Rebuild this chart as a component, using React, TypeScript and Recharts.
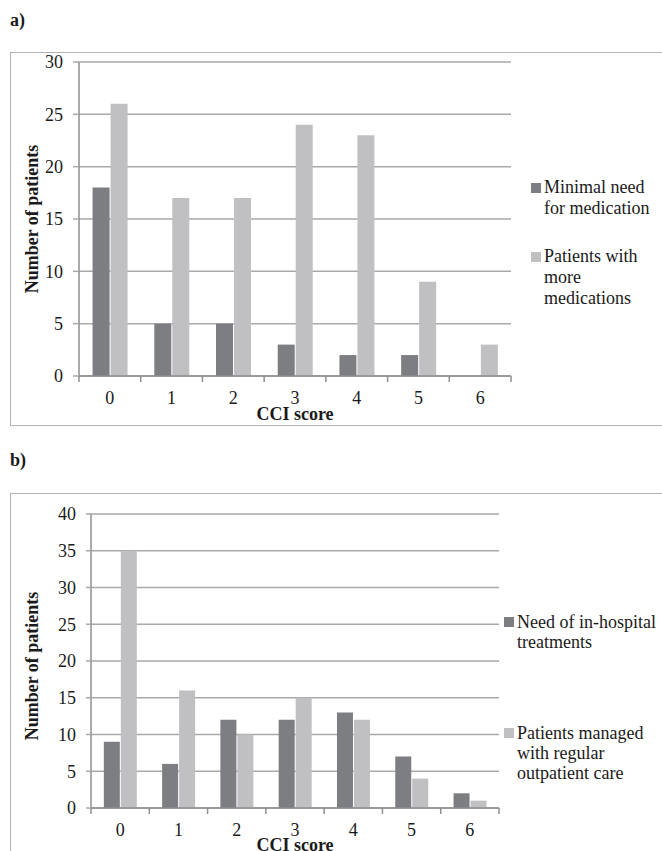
import React from 'react';
import { BarChart, Bar, XAxis, YAxis, CartesianGrid, Legend } from 'recharts';

const categories = ['0', '1', '2', '3', '4', '5', '6'];
const minimalNeed = [18, 5, 5, 3, 2, 2, 0];
const moreMedications = [26, 17, 17, 24, 23, 9, 3];
const inHospital = [9, 6, 12, 12, 13, 7, 2];
const outpatient = [35, 16, 10, 15, 12, 4, 1];
const ticksA = [0, 5, 10, 15, 20, 25, 30];
const ticksB = [0, 5, 10, 15, 20, 25, 30, 35, 40];

const seriesA = ['Minimal need for medication', 'Patients with more medications'];
const seriesB = ['Need of in-hospital treatments', 'Patients managed with regular outpatient care'];

const dataA = categories.map((c, i) => ({ cci: c, s1: minimalNeed[i], s2: moreMedications[i] }));
const dataB = categories.map((c, i) => ({ cci: c, s1: inHospital[i], s2: outpatient[i] }));

const FONT = "'Liberation Serif', 'Times New Roman', serif";
const DARK = '#7d7e82';
const LIGHT = '#c0c0c2';
const GRID = '#a9a9a9';
const AXIS = '#8e8e8e';
const TEXT = '#1a1a1a';

const makeXTick = (count: number) => (props: any) => {
  const { x, y, payload, index } = props;
  const half = payload && typeof payload.offset === 'number' && payload.offset > 0 ? payload.offset : 30;
  return (
    <g>
      <line x1={x - half} x2={x - half} y1={y} y2={y + 6} stroke={AXIS} strokeWidth={1.5} />
      {index === count - 1 && (
        <line x1={x + half} x2={x + half} y1={y} y2={y + 6} stroke={AXIS} strokeWidth={1.5} />
      )}
      <text x={x} y={y + 22} textAnchor="middle" dominantBaseline="central" fontFamily={FONT} fontSize={18} fill={TEXT}>
        {payload.value}
      </text>
    </g>
  );
};

const makeXTitle = (dy: number, text: string) => (props: any) => {
  const vb = props.viewBox || {};
  return (
    <text x={vb.x + vb.width / 2} y={vb.y + dy} textAnchor="middle" dominantBaseline="central" fontFamily={FONT} fontSize={18} fontWeight="bold" fill={TEXT}>
      {text}
    </text>
  );
};

const makeYTitle = (cx: number, dy: number, text: string) => (props: any) => {
  const vb = props.viewBox || {};
  const cy = vb.y + vb.height / 2 + dy;
  return (
    <text x={cx} y={cy} transform={`rotate(-90, ${cx}, ${cy})`} textAnchor="middle" dominantBaseline="central" fontFamily={FONT} fontSize={18} fontWeight="bold" fill={TEXT}>
      {text}
    </text>
  );
};

const makeLegend = (gap: number, textWidth: number, lineHeight: number) => (props: any) => {
  const payload = props.payload || [];
  return (
    <div style={{ fontFamily: FONT, fontSize: 18, lineHeight: `${lineHeight}px`, color: TEXT }}>
      {payload.map((p: any, i: number) => (
        <div key={i} style={{ display: 'flex', alignItems: 'flex-start', marginTop: i ? gap : 0 }}>
          <span style={{ width: 10, height: 10, background: p.color, marginTop: (lineHeight - 10) / 2, marginRight: 3, flex: 'none' }} />
          <span style={{ width: textWidth }}>{p.value}</span>
        </div>
      ))}
    </div>
  );
};

export default function App() {
  return (
    <div style={{ position: 'absolute', left: 0, top: 0, width: 662, height: 851, overflow: 'hidden', background: '#fff', fontFamily: FONT }}>
      <div style={{ position: 'absolute', left: 10, top: 9, fontSize: 18, fontWeight: 'bold', color: TEXT, lineHeight: '22px' }}>a)</div>
      <div style={{ position: 'absolute', left: 10, top: 449, fontSize: 18, fontWeight: 'bold', color: TEXT, lineHeight: '22px' }}>b)</div>
      <div style={{ position: 'absolute', left: 10, top: 52, width: 700, height: 372, border: '1.5px solid #b3b3b3' }} />
      <div style={{ position: 'absolute', left: 10, top: 493, width: 700, height: 500, border: '1.5px solid #b3b3b3' }} />

      <div style={{ position: 'absolute', left: 0, top: 0 }}>
        <BarChart width={662} height={440} data={dataA} margin={{ top: 62, right: 151, bottom: 14, left: 24 }} barCategoryGap="22%" barGap={1}>
          <CartesianGrid vertical={false} stroke={GRID} strokeWidth={1.5} />
          <XAxis dataKey="cci" height={50} tickLine={false} tickSize={0} tickMargin={0} axisLine={{ stroke: AXIS, strokeWidth: 1.5 }} tick={makeXTick(categories.length)} interval={0} label={{ content: makeXTitle(38, 'CCI score') } as any} />
          <YAxis width={55} domain={[0, 30]} ticks={ticksA} interval={0} tickSize={6} tickMargin={10} axisLine={{ stroke: AXIS, strokeWidth: 1.5 }} tickLine={{ stroke: GRID, strokeWidth: 1.5 }} tick={{ fontFamily: FONT, fontSize: 18, fill: TEXT }} label={{ content: makeYTitle(32, 0, 'Number of patients') } as any} />
          <Legend layout="vertical" align="center" verticalAlign="middle" content={makeLegend(27, 118, 21)} wrapperStyle={{ left: 531, top: 177, width: 131 }} />
          <Bar dataKey="s1" name={seriesA[0]} fill={DARK} isAnimationActive={false} />
          <Bar dataKey="s2" name={seriesA[1]} fill={LIGHT} isAnimationActive={false} />
        </BarChart>
      </div>

      <div style={{ position: 'absolute', left: 0, top: 480 }}>
        <BarChart width={662} height={371} data={dataB} margin={{ top: 34, right: 163, bottom: 0, left: 36 }} barCategoryGap="22%" barGap={1}>
          <CartesianGrid vertical={false} stroke={GRID} strokeWidth={1.5} />
          <XAxis dataKey="cci" height={43} tickLine={false} tickSize={0} tickMargin={0} axisLine={{ stroke: AXIS, strokeWidth: 1.5 }} tick={makeXTick(categories.length)} interval={0} label={{ content: makeXTitle(37, 'CCI score') } as any} />
          <YAxis width={55} domain={[0, 40]} ticks={ticksB} interval={0} tickSize={5} tickMargin={10} axisLine={{ stroke: AXIS, strokeWidth: 1.5 }} tickLine={{ stroke: GRID, strokeWidth: 1.5 }} tick={{ fontFamily: FONT, fontSize: 18, fill: TEXT }} label={{ content: makeYTitle(32, 5, 'Number of patients') } as any} />
          <Legend layout="vertical" align="center" verticalAlign="middle" content={makeLegend(71, 145, 20)} wrapperStyle={{ left: 504, top: 132, width: 158 }} />
          <Bar dataKey="s1" name={seriesB[0]} fill={DARK} isAnimationActive={false} />
          <Bar dataKey="s2" name={seriesB[1]} fill={LIGHT} isAnimationActive={false} />
        </BarChart>
      </div>
    </div>
  );
}
